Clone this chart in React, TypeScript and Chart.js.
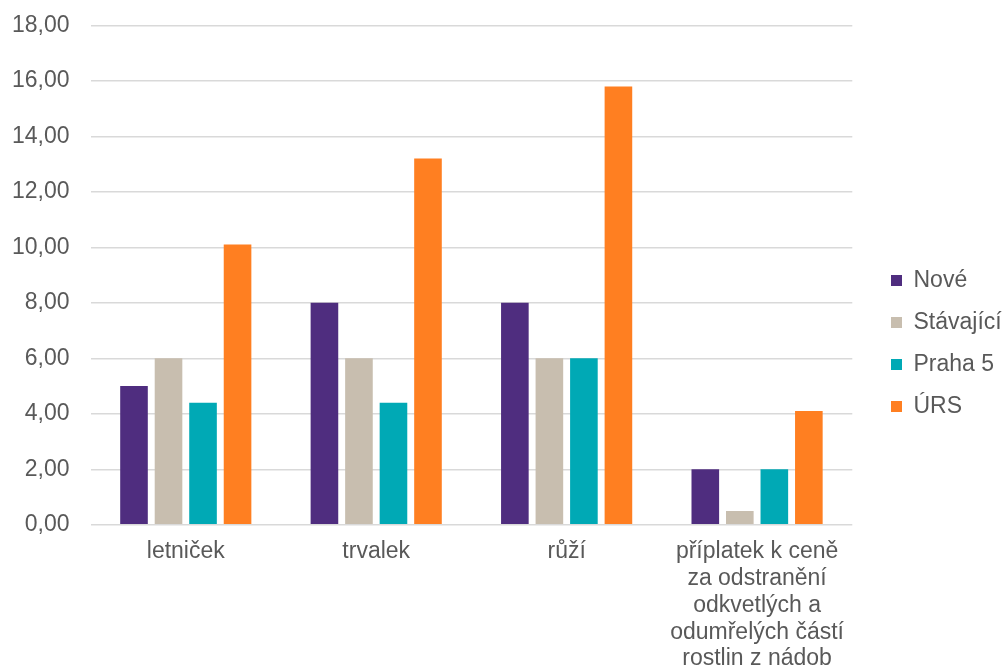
import React, { useEffect, useRef } from "react";
import { Chart, registerables } from "chart.js";

Chart.register(...registerables);

const categories: (string | string[])[] = [
  "letniček",
  "trvalek",
  "růží",
  ["příplatek k ceně", "za odstranění", "odkvetlých a", "odumřelých částí", "rostlin z nádob"],
];

const seriesNames = ["Nové", "Stávající", "Praha 5", "ÚRS"];
const nove = [5, 8, 8, 2];
const stavajici = [6, 6, 6, 0.5];
const praha5 = [4.4, 4.4, 6, 2];
const urs = [10.1, 13.2, 15.8, 4.1];
const colors = ["#4F2D7F", "#C8BEAF", "#00A9B5", "#FF7F21"];

const yMin = 0;
const yMax = 18;
const yStep = 2;

const FONT = "'Liberation Sans', Arial, sans-serif";
const TEXT = "#595959";

const OFFSET = 9;

const legendShift = {
  id: "legendShift",
  afterLayout(chart: any) {
    const l = chart.legend;
    if (!l) return;
    const pad = l.options.labels.padding;
    const dx = 891 + OFFSET - (l.left + pad);
    const dy = 5;
    l.left += dx;
    l.right += dx;
    l.top += dy;
    l.bottom += dy;
  },
};

export default function App() {
  const ref = useRef<HTMLCanvasElement>(null);
  useEffect(() => {
    if (!ref.current) return;
    const values = [nove, stavajici, praha5, urs];
    const chart = new Chart(ref.current, {
      type: "bar",
      data: {
        labels: categories,
        datasets: seriesNames.map((name, i) => ({
          label: name,
          data: values[i],
          backgroundColor: colors[i],
          borderWidth: 0,
          categoryPercentage: 0.725,
          barPercentage: 0.8,
        })),
      },
      options: {
        responsive: false,
        animation: false,
        layout: { padding: { left: 0, right: 11, top: 0, bottom: 0 } },
        plugins: {
          tooltip: { enabled: false },
          legend: {
            position: "right",
            align: "center",
            labels: {
              boxWidth: 11,
              boxHeight: 11,
              padding: 19,
              color: TEXT,
              font: { family: FONT, size: 23 },
            },
          },
        },
        scales: {
          x: {
            grid: { display: false, drawTicks: false },
            border: { display: false },
            ticks: {
              color: TEXT,
              padding: 13.6,
              maxRotation: 0,
              autoSkip: false,
              font: { family: FONT, size: 23, lineHeight: 1.165 },
            },
          },
          y: {
            min: yMin,
            max: yMax,
            grid: { color: "#D9D9D9", lineWidth: 1.5, drawTicks: false },
            border: { display: false },
            ticks: {
              stepSize: yStep,
              color: TEXT,
              padding: 21,
              font: { family: FONT, size: 23, lineHeight: 1.165 },
              callback: (v: any) => Number(v).toFixed(2).replace(".", ","),
            },
          },
        },
      },
      plugins: [legendShift],
    });
    return () => chart.destroy();
  }, []);
  return (
    <div style={{ position: "fixed", left: 0, top: 0, width: 1003, height: 667, overflow: "hidden", background: "#fff" }}>
      <canvas
        ref={ref}
        width={1012}
        height={695}
        style={{ position: "absolute", left: -OFFSET, top: -OFFSET, display: "block", width: 1012, height: 695 }}
      />
    </div>
  );
}
